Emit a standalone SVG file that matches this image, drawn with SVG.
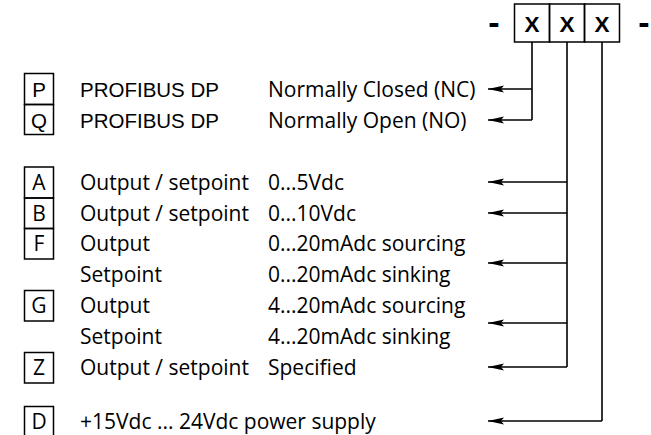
<svg xmlns="http://www.w3.org/2000/svg" width="651" height="435" viewBox="0 0 651 435">
<defs>
<style>
.bx{fill:none;stroke:#000;stroke-width:1.5}
.ln{fill:none;stroke:#000;stroke-width:1.6}
.ah{fill:#000;stroke:none}
.ar{font-family:"Liberation Sans",Arial,sans-serif;font-size:20.5px;fill:#000}
.ca{font-family:"Open Sans","Noto Sans",sans-serif;font-size:21px;fill:#000}
.xx{font-family:"Liberation Sans",Arial,sans-serif;font-size:22.5px;font-weight:bold;fill:#000}
.ds{font-family:"Liberation Sans",Arial,sans-serif;font-size:34px;font-weight:bold;fill:#000}
.c{text-anchor:middle}
</style>
<marker id="arr" markerWidth="18" markerHeight="8" refX="16" refY="4" orient="auto" markerUnits="userSpaceOnUse">
<path d="M16,4 L0,0.5 L3,4 L0,7.5 Z" class="ah"/>
</marker>
</defs>
<rect width="651" height="435" fill="#fff"/>

<g id="code">
<text class="ds c" x="494" y="34">-</text>
<rect class="bx" x="514.5" y="4" width="35" height="38"/>
<rect class="bx" x="549.5" y="4" width="35" height="38"/>
<rect class="bx" x="584.5" y="4" width="35" height="38"/>
<text class="xx c" x="532" y="32">X</text>
<text class="xx c" x="567" y="32">X</text>
<text class="xx c" x="602" y="32">X</text>
<text class="ds c" x="644" y="34">-</text>
</g>

<g id="connectors">
<path class="ln" d="M532,42 V120 M567,42 V367 M602,42 V421"/>
<line class="ln" x1="532" y1="89" x2="488" y2="89" marker-end="url(#arr)"/>
<line class="ln" x1="532" y1="120" x2="488" y2="120" marker-end="url(#arr)"/>
<line class="ln" x1="567" y1="182" x2="488" y2="182" marker-end="url(#arr)"/>
<line class="ln" x1="567" y1="213" x2="488" y2="213" marker-end="url(#arr)"/>
<line class="ln" x1="567" y1="263" x2="488" y2="263" marker-end="url(#arr)"/>
<line class="ln" x1="567" y1="323" x2="488" y2="323" marker-end="url(#arr)"/>
<line class="ln" x1="567" y1="367" x2="488" y2="367" marker-end="url(#arr)"/>
<line class="ln" x1="602" y1="421" x2="488" y2="421" marker-end="url(#arr)"/>
</g>

<g id="node-P">
<rect class="bx" x="24.5" y="73.5" width="29" height="31"/>
<text class="ar c" x="39" y="96.5">P</text>
<text class="ar" x="80" y="96.5">PROFIBUS DP</text>
<text class="ca" x="268" y="96.5">Normally Closed (NC)</text>
</g>
<g id="node-Q">
<rect class="bx" x="24.5" y="104.5" width="29" height="30"/>
<text class="ar c" x="39" y="127.5">Q</text>
<text class="ar" x="80" y="127.5">PROFIBUS DP</text>
<text class="ca" x="268" y="127.5">Normally Open (NO)</text>
</g>
<g id="node-A">
<rect class="bx" x="24.5" y="167" width="29" height="31"/>
<text class="ca c" x="39" y="189.5">A</text>
<text class="ca" x="80" y="189.5">Output / setpoint</text>
<text class="ca" x="268" y="189.5">0...5Vdc</text>
</g>
<g id="node-B">
<rect class="bx" x="24.5" y="198" width="29" height="30.5"/>
<text class="ca c" x="39" y="220.5">B</text>
<text class="ca" x="80" y="220.5">Output / setpoint</text>
<text class="ca" x="268" y="220.5">0...10Vdc</text>
</g>
<g id="node-F">
<rect class="bx" x="24.5" y="228.5" width="29" height="30.5"/>
<text class="ca c" x="39" y="250.5">F</text>
<text class="ca" x="80" y="250.5">Output</text>
<text class="ca" x="268" y="250.5">0...20mAdc sourcing</text>
<text class="ca" x="80" y="281.5">Setpoint</text>
<text class="ca" x="268" y="281.5">0...20mAdc sinking</text>
</g>
<g id="node-G">
<rect class="bx" x="24.5" y="290.5" width="29" height="30.5"/>
<text class="ca c" x="39" y="312.5">G</text>
<text class="ca" x="80" y="312.5">Output</text>
<text class="ca" x="268" y="312.5">4...20mAdc sourcing</text>
<text class="ca" x="80" y="343.5">Setpoint</text>
<text class="ca" x="268" y="343.5">4...20mAdc sinking</text>
</g>
<g id="node-Z">
<rect class="bx" x="24.5" y="352.5" width="29" height="30.5"/>
<text class="ca c" x="39" y="374.5">Z</text>
<text class="ca" x="80" y="374.5">Output / setpoint</text>
<text class="ca" x="268" y="374.5">Specified</text>
</g>
<g id="node-D">
<rect class="bx" x="24.5" y="406.5" width="29" height="40"/>
<text class="ca c" x="39" y="428.5">D</text>
<text class="ca" x="80" y="428.5">+15Vdc ... 24Vdc power supply</text>
</g>
</svg>
